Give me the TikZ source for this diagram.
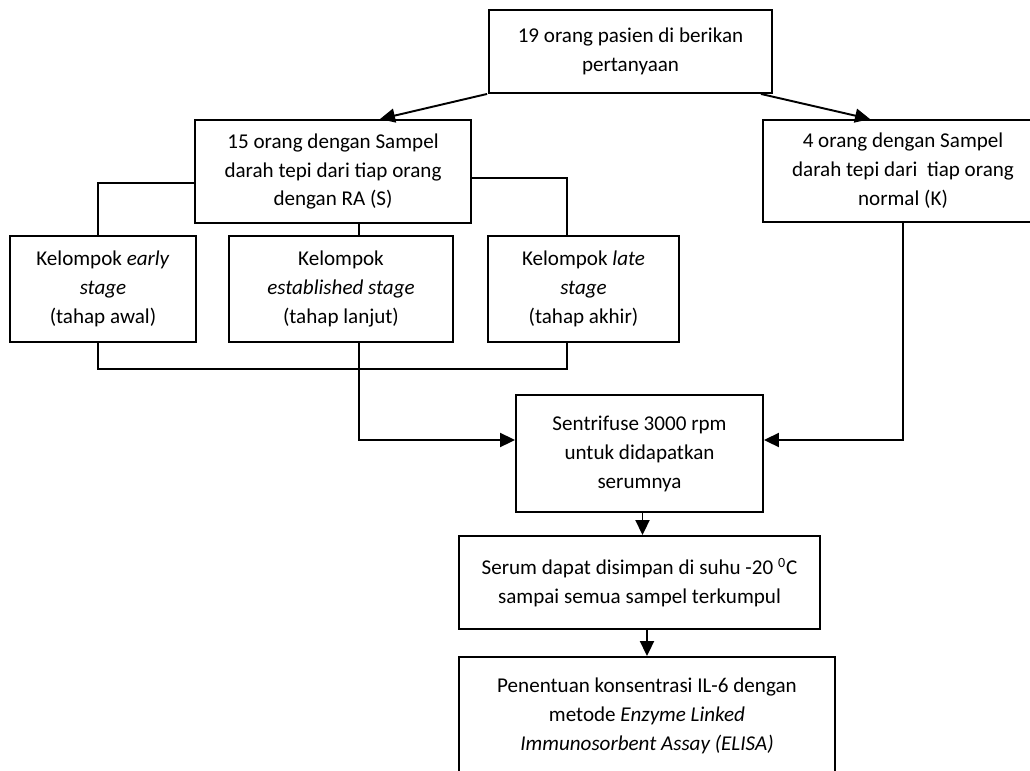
\documentclass[tikz,border=0pt]{standalone}
\usepackage{fontspec}
\setmainfont{Carlito}
\usetikzlibrary{arrows.meta}
\begin{document}
\begin{tikzpicture}
    %Alur penelitian
    	[x=0.02cm,y=-0.02cm,
    	 kotak/.style={draw,line width=1.1pt,align=center,inner sep=0pt,
    	               font=\fontsize{12}{16.5}\selectfont},
    	 garis/.style={line width=1.1pt},
    	 panah/.style={line width=1.1pt,-{Triangle[length=0.3cm,width=0.28cm]}}]
    \useasboundingbox (0,0) rectangle (1030,770);

    %draw the boxes
    \node[kotak,minimum width=5.66cm,minimum height=1.66cm] (atas) at (630.5,51.5)
        {19 orang pasien di berikan\\ pertanyaan};
    \node[kotak,minimum width=5.52cm,minimum height=2.06cm] (kiri) at (333,171.5)
        {15 orang dengan Sampel\\ darah tepi dari tiap orang\\ dengan RA (S)};
    \node[kotak,minimum width=5.6cm,minimum height=2.04cm] (kanan) at (903,171)
        {4 orang dengan Sampel\\ darah tepi dari~ tiap orang\\ normal (K)};
    \node[kotak,minimum width=3.72cm,minimum height=2.12cm] (awal) at (103,289)
        {Kelompok \textit{early}\\ \textit{stage}\\ (tahap awal)};
    \node[kotak,minimum width=4.48cm,minimum height=2.12cm] (lanjut) at (341,289)
        {Kelompok\\ \textit{established stage}\\ (tahap lanjut)};
    \node[kotak,minimum width=3.82cm,minimum height=2.12cm] (akhir) at (583.5,289)
        {Kelompok \textit{late}\\ \textit{stage}\\ (tahap akhir)};
    \node[kotak,minimum width=4.94cm,minimum height=2.34cm] (sentrifuse) at (639.5,453.5)
        {Sentrifuse 3000 rpm\\ untuk didapatkan\\ serumnya};
    \node[kotak,minimum width=7.22cm,minimum height=1.86cm] (serum) at (639.5,582.5)
        {Serum dapat disimpan di suhu -20 \textsuperscript{0}C\\ sampai semua sampel terkumpul};
    \node[kotak,minimum width=7.52cm,minimum height=2.86cm] (elisa) at (647,728.5)
        {Penentuan konsentrasi IL-6 dengan\\ metode \textit{Enzyme Linked}\\
         \textit{Immunosorbent Assay (ELISA)}\\ \mbox{}};

    %columns of the brackets
    \coordinate (kolA) at (98,0);
    \coordinate (kolB) at (359,0);
    \coordinate (kolC) at (567,0);
    \coordinate (bawah) at (0,369);

    %split of the patients
    \draw[panah] ([xshift=-0.02cm]atas.south west) -- ([xshift=0.94cm]kiri.north);
    \draw[panah] ([xshift=-0.24cm]atas.south east) -- ([xshift=-0.66cm]kanan.north);

    %draw the upper bracket
    \draw[garis] ([yshift=-0.23cm]kiri.west) -| (awal.north -| kolA);
    \draw[garis] ([yshift=-0.13cm]kiri.east) -| (akhir.north -| kolC);
    \draw[garis] (kiri.south -| kolB) -- (lanjut.north -| kolB);

    %draw the lower bracket
    \draw[garis] (awal.south -| kolA) |- (bawah -| kolC) -- (akhir.south -| kolC);
    \draw[panah] (lanjut.south -| kolB) |- ([yshift=0.27cm]sentrifuse.west);
    \draw[panah] (kanan.south) |- ([yshift=0.27cm]sentrifuse.east);

    %serum
    \draw[panah] ([xshift=0.06cm]sentrifuse.south) -- ([xshift=0.06cm]serum.north);
    \draw[panah] (serum.south -| elisa.north) -- (elisa.north);
\end{tikzpicture}
\end{document}
